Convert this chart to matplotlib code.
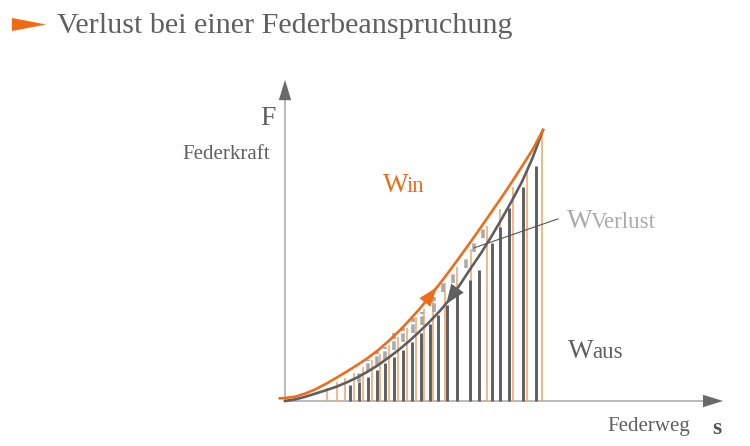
import numpy as np
import matplotlib
matplotlib.use("Agg")
import matplotlib.pyplot as plt
from matplotlib.patches import Polygon
from matplotlib.transforms import offset_copy

plt.rcParams['font.family'] = ['Liberation Serif', 'DejaVu Serif']

# curves (s = Federweg, F = Federkraft, both 0..100)
s_in = [-2, 0, 4, 8, 12, 16, 20, 24, 28, 32, 36, 40, 44, 48, 52, 56, 60,
        64, 68, 72, 76, 80, 84, 88, 92, 96, 100]
f_in = [1.0, 1.1, 1.6, 2.8, 4.4, 6.4, 8.6, 10.9, 13.3, 15.8, 18.7, 22.0, 25.6,
        29.6, 33.8, 38.4, 43.3, 48.3, 53.5, 58.8, 64.2, 69.7, 75.2, 80.9, 86.8,
        92.8, 100]
s_aus = [0, 4, 8, 12, 16, 20, 24, 28, 32, 36, 40, 44, 48, 52, 56, 60, 64,
         68, 72, 76, 80, 84, 88, 92, 96, 100]
f_aus = [0, 0.6, 1.6, 2.8, 4.0, 5.3, 6.9, 8.7, 10.8, 13.2, 15.9, 18.8, 22.0,
         25.5, 29.2, 33.2, 37.7, 43.2, 49.0, 54.6, 60.7, 67.2, 74.0, 81.2, 89.8, 100]

# thin orange strips (W_in)
s_or = [16.3, 20.2, 23.3, 26.7, 30.2, 33.7, 36.8, 40.3, 43.8, 47.3, 50.8,
        53.9, 57.4, 62.0, 66.7, 72.1, 78.3, 83.3, 88.4, 93.8, 99.6]
h_or = [4.8, 7, 8.5, 10.5, 12.5, 15, 17.5, 20.5, 23.5, 27, 31,
        34, 38, 43.5, 49.5, 56, 64.5, 71, 79, 85, 99.3]

# dark strips (W_aus)
s_dk = [25.2, 28.7, 32.2, 35.7, 38.8, 42.2, 45.7, 49.2, 52.7, 56.2,
        59.3, 62.8, 66.7, 71.7, 75.2, 80.2, 83.3, 86.8, 92.2, 97.3]
h_dk = [5.9, 7.1, 9, 11.4, 14, 16.3, 18.8, 21.9, 25, 28.4,
        31.7, 35.4, 40, 44.6, 48.3, 58.3, 64.2, 71.2, 79, 86.7]

# light dashed strips (W_Verlust)
s_vl = [28.7, 32.2, 35.7, 38.8, 42.2, 45.7, 49.6, 53.1, 57.8, 61.2,
        65.1, 70.2, 73.3, 76.7]
lo_vl = [7, 10.7, 13.3, 15, 18.8, 21.8, 25, 28, 32.8, 40.2, 43.5, 49, 55, 60]
hi_vl = [10.7, 15.1, 18, 20, 25, 27, 30.6, 32.8, 38.4, 44.3, 47.6, 52.8, 58.7, 63.8]

title = "Verlust bei einer Federbeanspruchung"
ORANGE = "#ef6c1a"
GREY = "#5f5f5f"
TXT = "#606060"

W, H = 750, 446
fig = plt.figure(figsize=(W / 100, H / 100), dpi=100)

# axes placed so that s=0,F=0 sits at pixel (285,401)
x0, y0, kx, ky = 285, 401, 2.58, 2.71
xl, yl = (-10, 175), (-15, 120)
px_l, px_r = x0 + kx * xl[0], x0 + kx * xl[1]
py_b, py_t = y0 - ky * yl[0], y0 - ky * yl[1]
ax = fig.add_axes([px_l / W, 1 - py_b / H, (px_r - px_l) / W, (py_b - py_t) / H])
ax.set_xlim(*xl)
ax.set_ylim(*yl)
ax.axis('off')

# coordinate axes with arrow heads
ax.plot([0, 162], [0, 0], color="#a8a8a8", lw=1.1, zorder=1)
ax.plot([0, 0], [0, 111], color="#a8a8a8", lw=1.1, zorder=1)
ax.add_patch(Polygon([[162, -2.3], [169.8, 0], [162, 2.3]], closed=True,
                     color="#6a6a6a", lw=0))
ax.add_patch(Polygon([[-2.4, 111], [0, 118.5], [2.4, 111]], closed=True,
                     color="#6a6a6a", lw=0))

# strips
ax.vlines(s_or, 0, h_or, color="#f0a468", lw=1.1, zorder=2)
ax.vlines(s_dk, 0, h_dk, color=GREY, lw=2.1, zorder=3)
for s, a, b in zip(s_vl, lo_vl, hi_vl):
    ax.plot([s, s], [a, b], color="#aaaaaa", lw=2.6, ls=(0, (2.4, 0.6)),
            solid_capstyle='butt', zorder=3)

# curves
ax.plot(s_aus, f_aus, color=GREY, lw=1.9, zorder=4)
ax.plot(s_in, f_in, color=ORANGE, lw=1.9, zorder=5)

# direction arrows on the curves
ax.annotate('', xy=(58.9, 42.0), xytext=(53.0, 34.9),
            arrowprops=dict(arrowstyle='-|>,head_length=1.4,head_width=0.5',
                            color=ORANGE, lw=0, shrinkA=0, shrinkB=0), zorder=6)
ax.annotate('', xy=(62.5, 35.8), xytext=(68.0, 43.2),
            arrowprops=dict(arrowstyle='-|>,head_length=1.4,head_width=0.55',
                            color=GREY, lw=0, shrinkA=0, shrinkB=0), zorder=6)

# leader line to W_Verlust
ax.plot([73.3, 105.8], [56.5, 67.2], color="#555555", lw=0.8, zorder=6)

# labels
ax.text(-6.6, 104.4, "F", color=TXT, fontsize=20, ha='center', va='center')
ax.text(-5.8, 91, "Federkraft", color=TXT, fontsize=15, ha='right', va='center')
ax.text(124.8, -9.4, "Federweg", color=TXT, fontsize=15, ha='left', va='center')
ax.text(167.4, -10.3, "s", color="#555555", fontsize=17, fontweight='bold',
        ha='center', va='center')

fig.canvas.draw()
renderer = fig.canvas.get_renderer()


def w_label(s, f, sub, color):
    t = ax.text(s, f, "W", color=color, fontsize=19.5, va='baseline')
    bb = t.get_window_extent(renderer)
    wdt = bb.width * 72 / fig.dpi
    tr = offset_copy(ax.transData, fig=fig, x=wdt - 1.2, y=0, units='points')
    ax.text(s, f, sub, color=color, fontsize=16.5, va='baseline', transform=tr)


w_label(38.0, 77.1, "in", ORANGE)
w_label(109.3, 63.8, "Verlust", "#ababab")
w_label(109.7, 15.9, "aus", TXT)

# title with orange pointer
tri = [(12, 18), (46, 24.5), (12, 31)]
fig.add_artist(Polygon([(x / W, 1 - y / H) for x, y in tri], closed=True,
                       transform=fig.transFigure, color="#f26a10", lw=0))
fig.text(57 / W, 1 - 26 / H, title, color=TXT, fontsize=21.7, ha='left', va='center')

fig.savefig("out.png", dpi=100)
